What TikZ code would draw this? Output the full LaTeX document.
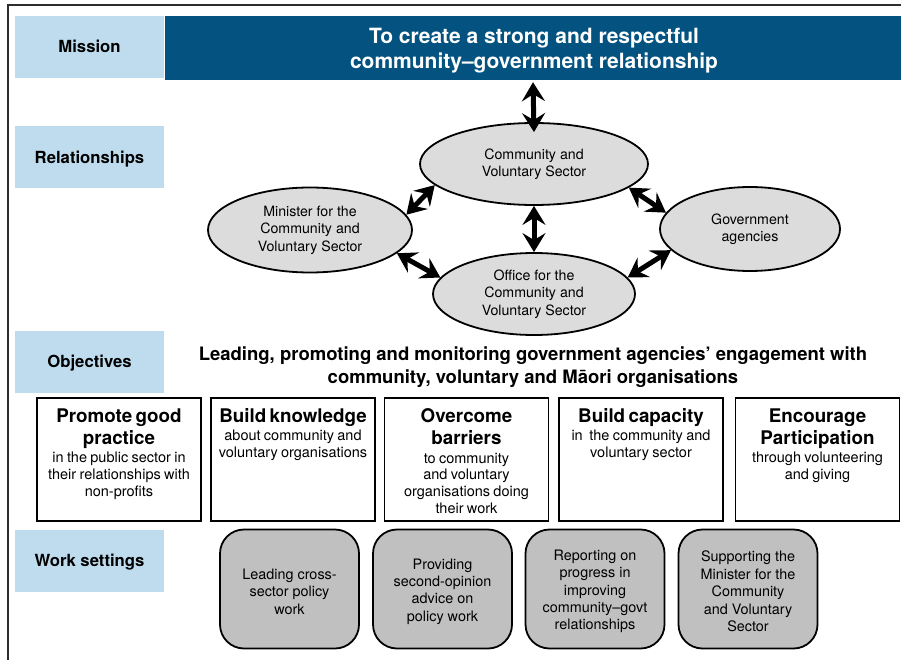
\documentclass[tikz,border=0pt]{standalone}
\usepackage{fontspec}
\setmainfont{TeX Gyre Heros}
\usetikzlibrary{shapes.geometric,arrows.meta}
\setlength{\parindent}{0pt}
\definecolor{labelblue}{RGB}{190,220,238}
\definecolor{missionblue}{RGB}{3,82,128}
\definecolor{ellgray}{RGB}{220,220,220}
\definecolor{workgray}{RGB}{192,192,192}
\definecolor{framegray}{RGB}{45,45,45}
% heading and body of an objective box
\newcommand\objhead[1]{{\fontsize{18.8}{22.5}\selectfont\bfseries #1\par}}
\newcommand\objbody[1]{\vspace{1.5pt}{\fontsize{14.5}{16.8}\selectfont #1\par}}

\begin{document}
\begin{tikzpicture}[x=1pt,y=-1pt,
  rowlabel/.style={fill=labelblue, minimum width=149pt, minimum height=62pt,
    inner sep=0pt, text height=11.5pt, text depth=0pt,
    font=\fontsize{16.7}{19}\selectfont\bfseries},
  party/.style={ellipse, draw=black, line width=1.8pt, fill=ellgray, inner sep=0pt,
    align=center, font=\fontsize{14.2}{17.5}\selectfont},
  link/.style={line width=5pt,
    {Stealth[length=19pt,width=23pt,inset=7pt]}-{Stealth[length=19pt,width=23pt,inset=7pt]}},
  objbox/.style={draw=black, line width=1.8pt, fill=white, minimum width=164pt,
    minimum height=123pt, inner sep=0pt},
  objtext/.style={anchor=north, align=center, inner sep=0pt, text width=162pt},
  workbox/.style={draw=black, line width=1.8pt, fill=workgray, rounded corners=24pt,
    minimum width=139pt, minimum height=119pt, inner sep=0pt},
  worktext/.style={align=center, inner sep=0pt, font=\fontsize{14.4}{17.4}\selectfont},
]
\useasboundingbox (0,0) rectangle (901,660);

% outer frame
\draw[framegray, line width=2pt] (8,660) -- (8,5) -- (901,5);

% row labels
\node[rowlabel] (lmission) at (89.5,47) {Mission};
\node[rowlabel] (lrel) at (89.5,157.5) {Relationships};
\node[rowlabel] (lobj) at (89.5,361.5) {Objectives};
\node[rowlabel] (lwork) at (89.5,560.5) {Work settings};

% mission banner
\node[fill=missionblue, minimum width=736pt, minimum height=64pt, inner sep=0pt]
  (mission) at (533,48) {};
\node[text=white, align=center, inner sep=0pt, font=\fontsize{21}{25}\selectfont\bfseries]
  (missiontext) at (534,51) {To create a strong and respectful\\community–government relationship};

% relationship parties
\node[party, minimum width=228pt, minimum height=82pt] (cvs) at (534,164)
  {Community and\\Voluntary Sector};
\node[party, minimum width=204pt, minimum height=85pt] (minister) at (310,230)
  {Minister for the\\Community and\\Voluntary Sector};
\node[party, minimum width=202pt, minimum height=82pt] (office) at (534,294)
  {Office for the\\Community and\\Voluntary Sector};
\node[party, minimum width=180pt, minimum height=84pt] (gov) at (750,229)
  {Government\\agencies};

% two-way links
\draw[link] ([yshift=-2pt]mission.south) -- ([yshift=-10pt]cvs.north);
\draw[link] (cvs.south) -- (office.north);
\draw[link] (minister.9) -- (cvs.192);
\draw[link] (minister.-15) -- (office.170);
\draw[link] (cvs.-14) -- (gov.169);
\draw[link] (office.10) -- (gov.195);

% objectives
\node[align=center, inner sep=0pt, font=\fontsize{18.5}{23}\selectfont\bfseries]
  (aim) at (533,367)
  {Leading, promoting and monitoring government agencies’ engagement with\\
   community, voluntary and Māori organisations};

\node[objbox] (o1) at (119,459.5) {};
\node[objbox] (o2) at (293,459.5) {};
\node[objbox] (o3) at (466.5,459.5) {};
\node[objbox] (o4) at (641,459.5) {};
\node[objbox] (o5) at (817.5,459.5) {};

\node[objtext] (o1t) at ([yshift=-11pt]o1.north)
  {\objhead{Promote good\\practice}\objbody{in the public sector in\\their relationships with\\non-profits}};
\node[objtext] (o2t) at ([yshift=-11pt]o2.north)
  {\objhead{Build knowledge}\objbody{about community and\\voluntary organisations}};
\node[objtext] (o3t) at ([yshift=-11pt]o3.north)
  {\objhead{Overcome\\barriers}\objbody{to community\\and voluntary\\organisations doing\\their work}};
\node[objtext] (o4t) at ([yshift=-11pt]o4.north)
  {\objhead{Build capacity}\objbody{in~ the community and\\voluntary sector}};
\node[objtext] (o5t) at ([yshift=-11pt]o5.north)
  {\objhead{Encourage\\Participation}\objbody{through volunteering\\and giving}};

% work settings
\node[workbox] (w1) at (289.5,589) {};
\node[workbox] (w2) at (442.5,589) {};
\node[workbox] (w3) at (595,589) {};
\node[workbox] (w4) at (748,589) {};
\node[worktext] (w1t) at ([yshift=-2.5pt]w1.center) {Leading cross-\\sector policy\\work};
\node[worktext] (w2t) at ([yshift=-2.5pt]w2.center) {Providing\\second-opinion\\advice on\\policy work};
\node[worktext] (w3t) at ([yshift=-2.5pt]w3.center) {Reporting on\\progress in\\improving\\community–govt\\relationships};
\node[worktext] (w4t) at ([yshift=-2.5pt]w4.center) {Supporting the\\Minister for the\\Community\\and Voluntary\\Sector};
\end{tikzpicture}
\end{document}
